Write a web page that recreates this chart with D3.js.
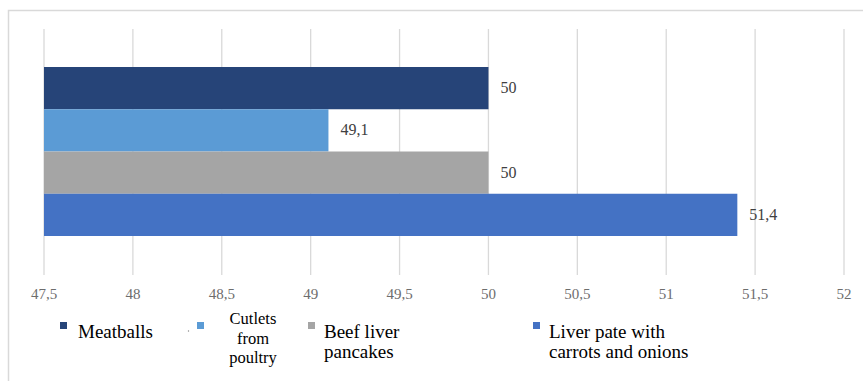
<!DOCTYPE html>
<html>
<head>
  <meta charset="utf-8">
  <title>Bar chart</title>
  <script src="https://d3js.org/d3.v7.min.js"></script>
  <style>
    html, body { margin: 0; overflow: hidden; background: #fff; }
  </style>
</head>
<body>
<svg width="863" height="381" font-family="'Liberation Serif', 'DejaVu Serif', serif"></svg>

<script>
// data
const series = ["Meatballs", "Cutlets from poultry", "Beef liver pancakes", "Liver pate with carrots and onions"];
const values = [50, 49.1, 50, 51.4];
const colors = ["#264478", "#5B9BD5", "#A5A5A5", "#4472C4"];
const ticks = [47.5, 48, 48.5, 49, 49.5, 50, 50.5, 51, 51.5, 52];
// legend labels, broken into lines as in the picture
const legendLines = [["Meatballs"], ["Cutlets", "from", "poultry"], ["Beef liver", "pancakes"], ["Liver pate with", "carrots and onions"]];

const svg = d3.select("svg");
const fmt = v => String(v).replace(".", ",");

// chart frame (right and bottom edges fall outside the window)
svg.append("rect")
  .attr("x", 8.5).attr("y", 10.5)
  .attr("width", 900).attr("height", 400)
  .attr("fill", "none").attr("stroke", "#d9d9d9").attr("stroke-width", 1.5);

const x = d3.scaleLinear().domain([47.5, 52]).range([44, 844]);
const y = d3.scaleBand().domain(series).range([67, 236]).padding(0);

// gridlines
svg.append("g")
  .selectAll("line")
  .data(ticks)
  .enter().append("line")
  .attr("x1", d => x(d)).attr("x2", d => x(d))
  .attr("y1", 29).attr("y2", 275)
  .attr("stroke", "#d9d9d9").attr("stroke-width", 1.3);

// tick labels
svg.append("g")
  .selectAll("text")
  .data(ticks)
  .enter().append("text")
  .attr("x", d => x(d)).attr("y", 299)
  .attr("text-anchor", "middle")
  .attr("font-size", 15)
  .attr("fill", "#6d6d6d")
  .text(d => fmt(d));

// bars
svg.append("g")
  .selectAll("rect")
  .data(series)
  .enter().append("rect")
  .attr("x", x(47.5))
  .attr("y", d => y(d))
  .attr("width", (d, i) => x(values[i]) - x(47.5))
  .attr("height", y.bandwidth())
  .attr("fill", (d, i) => colors[i]);

// data labels
svg.append("g")
  .selectAll("text")
  .data(series)
  .enter().append("text")
  .attr("x", (d, i) => x(values[i]) + 12)
  .attr("y", d => y(d) + y.bandwidth() / 2 + 5)
  .attr("font-size", 16)
  .attr("fill", "#404040")
  .text((d, i) => fmt(values[i]));

// legend
const legendX = [60, 197, 308, 533];
const leg = svg.append("g")
  .selectAll("g")
  .data(series)
  .enter().append("g");

leg.append("rect")
  .attr("x", (d, i) => legendX[i]).attr("y", 322)
  .attr("width", 7).attr("height", 7)
  .attr("fill", (d, i) => colors[i]);

leg.each(function(d, i) {
  const g = d3.select(this);
  const lines = legendLines[i];
  if (i === 1) {
    // small centred three-line label
    lines.forEach((t, k) => {
      g.append("text")
        .attr("x", 253).attr("y", 324 + k * 19.5)
        .attr("text-anchor", "middle")
        .attr("font-size", 16.5)
        .attr("fill", "#000")
        .text(t);
    });
  } else {
    lines.forEach((t, k) => {
      g.append("text")
        .attr("x", legendX[i] + (i === 0 ? 18 : 16)).attr("y", 338 + k * 20)
        .attr("font-size", 19)
        .attr("fill", "#000")
        .text(t);
    });
  }
});

// stray dot left of the second legend marker
svg.append("circle").attr("cx", 188.5).attr("cy", 331).attr("r", 0.7).attr("fill", "#888");
</script>
</body>
</html>
